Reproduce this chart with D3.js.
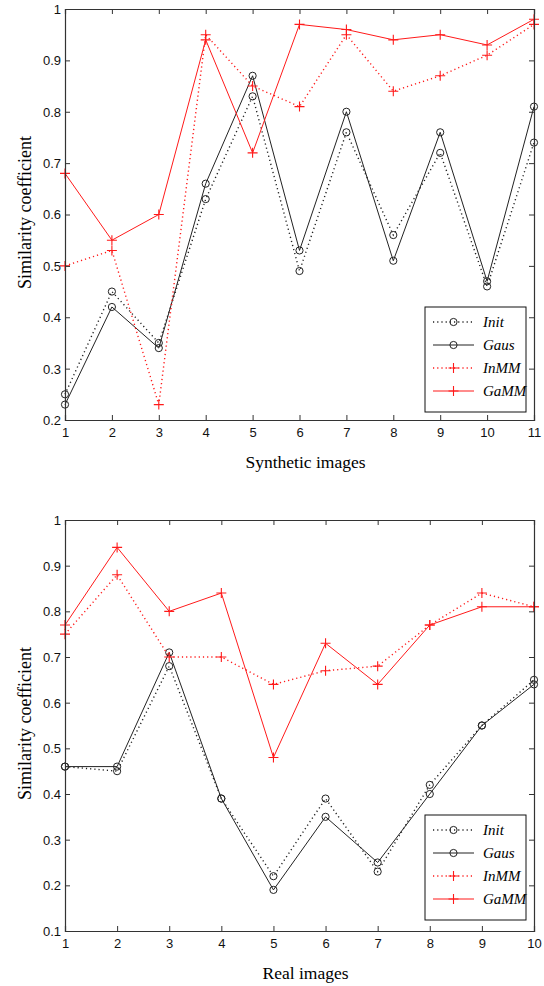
<!DOCTYPE html>
<html>
<head>
<meta charset="utf-8">
<script src="https://cdn.jsdelivr.net/npm/d3@7"></script>
<style>
  body { margin: 0; background: #fff; }
  svg { display: block; }
</style>
</head>
<body>
<script>
// synthetic images chart
const synthX = [1, 2, 3, 4, 5, 6, 7, 8, 9, 10, 11];
const synthInit = [0.25, 0.45, 0.35, 0.63, 0.83, 0.49, 0.76, 0.56, 0.72, 0.46, 0.74];
const synthGaus = [0.23, 0.42, 0.34, 0.66, 0.87, 0.53, 0.80, 0.51, 0.76, 0.47, 0.81];
const synthInMM = [0.50, 0.53, 0.23, 0.95, 0.85, 0.81, 0.95, 0.84, 0.87, 0.91, 0.97];
const synthGaMM = [0.68, 0.55, 0.60, 0.94, 0.72, 0.97, 0.96, 0.94, 0.95, 0.93, 0.98];
const synthYTicks = [0.2, 0.3, 0.4, 0.5, 0.6, 0.7, 0.8, 0.9, 1];

// real images chart
const realX = [1, 2, 3, 4, 5, 6, 7, 8, 9, 10];
const realInit = [0.46, 0.45, 0.68, 0.39, 0.22, 0.39, 0.23, 0.42, 0.55, 0.65];
const realGaus = [0.46, 0.46, 0.71, 0.39, 0.19, 0.35, 0.25, 0.40, 0.55, 0.64];
const realInMM = [0.75, 0.88, 0.70, 0.70, 0.64, 0.67, 0.68, 0.77, 0.84, 0.81];
const realGaMM = [0.77, 0.94, 0.80, 0.84, 0.48, 0.73, 0.64, 0.77, 0.81, 0.81];
const realYTicks = [0.1, 0.2, 0.3, 0.4, 0.5, 0.6, 0.7, 0.8, 0.9, 1];

const seriesNames = ['Init', 'Gaus', 'InMM', 'GaMM'];
const styles = {
  Init: { color: '#222', dash: '1.2,3', marker: 'circle' },
  Gaus: { color: '#222', dash: null, marker: 'circle' },
  InMM: { color: '#ff1a1a', dash: '1.2,3', marker: 'plus' },
  GaMM: { color: '#ff1a1a', dash: null, marker: 'plus' }
};

const svg = d3.select('body').append('svg')
  .attr('width', 544)
  .attr('height', 986);

function drawMarker(g, type, x, y, color) {
  if (type === 'circle') {
    g.append('circle')
      .attr('cx', x).attr('cy', y).attr('r', 3.6)
      .attr('fill', 'none').attr('stroke', color).attr('stroke-width', 1);
  } else {
    g.append('path')
      .attr('d', `M${x - 5},${y}H${x + 5}M${x},${y - 5}V${y + 5}`)
      .attr('stroke', color).attr('stroke-width', 1.1);
  }
}

function drawChart({ top, bottom, xs, yDomain, yTicks, data, xLabel, legendTop }) {
  const left = 65, right = 534;
  const x = d3.scaleLinear().domain([xs[0], xs[xs.length - 1]]).range([left, right]);
  const y = d3.scaleLinear().domain(yDomain).range([bottom, top]);

  const g = svg.append('g');

  // series
  seriesNames.forEach(function(name) {
    const st = styles[name];
    const vals = data[name];
    const line = d3.line().x((d, i) => x(xs[i])).y(d => y(d));
    g.append('path')
      .attr('d', line(vals))
      .attr('fill', 'none')
      .attr('stroke', st.color)
      .attr('stroke-width', st.dash ? 1.4 : 1)
      .attr('stroke-dasharray', st.dash);
    vals.forEach(function(v, i) {
      drawMarker(g, st.marker, x(xs[i]), y(v), st.color);
    });
  });

  // axes box
  const axisColor = '#333';
  const bot = g.append('g').attr('transform', `translate(0,${bottom})`)
    .call(d3.axisBottom(x).tickValues(xs).tickSize(-5).tickPadding(8).tickFormat(d3.format('d')));
  const topAx = g.append('g').attr('transform', `translate(0,${top})`)
    .call(d3.axisTop(x).tickValues(xs).tickSize(-5).tickFormat(''));
  const lft = g.append('g').attr('transform', `translate(${left},0)`)
    .call(d3.axisLeft(y).tickValues(yTicks).tickSize(-5).tickPadding(4).tickFormat(d => d === 1 ? '1' : d3.format('.1f')(d)));
  const rgt = g.append('g').attr('transform', `translate(${right},0)`)
    .call(d3.axisRight(y).tickValues(yTicks).tickSize(-5).tickFormat(''));

  [bot, topAx, lft, rgt].forEach(function(a) {
    a.select('.domain').attr('stroke', axisColor).attr('stroke-width', 1.2);
    a.selectAll('.tick line').attr('stroke', axisColor);
    a.selectAll('.tick text')
      .attr('fill', '#111')
      .style('font-family', '"Liberation Sans", Arial, sans-serif')
      .style('font-size', '13px');
  });
  lft.selectAll('.tick text').attr('dy', '0.34em');

  // axis titles
  g.append('text')
    .attr('transform', `translate(31,${(top + bottom) / 2 - 2}) rotate(-90)`)
    .attr('text-anchor', 'middle')
    .style('font-family', '"Liberation Serif", "Times New Roman", serif')
    .style('font-size', '18px')
    .text('Similarity coefficient');

  g.append('text')
    .attr('x', (left + right) / 2 + 6)
    .attr('y', bottom + 48)
    .attr('text-anchor', 'middle')
    .style('font-family', '"Liberation Serif", "Times New Roman", serif')
    .style('font-size', '17.5px')
    .text(xLabel);

  // legend
  const lg = g.append('g').attr('transform', `translate(425,${legendTop})`);
  lg.append('rect')
    .attr('width', 101).attr('height', 105)
    .attr('fill', '#fff').attr('stroke', '#111').attr('stroke-width', 1);
  seriesNames.forEach(function(name, i) {
    const st = styles[name];
    const ry = 15 + i * 23;
    lg.append('line')
      .attr('x1', 8).attr('x2', 49).attr('y1', ry).attr('y2', ry)
      .attr('stroke', st.color)
      .attr('stroke-width', st.dash ? 1.4 : 1.2)
      .attr('stroke-dasharray', st.dash);
    drawMarker(lg, st.marker, 28.5, ry, st.color);
    lg.append('text')
      .attr('x', 58).attr('y', ry + 5)
      .style('font-family', '"Liberation Serif", "Times New Roman", serif')
      .style('font-style', 'italic')
      .style('font-size', '15px')
      .text(name);
  });
}

drawChart({
  top: 9, bottom: 420, xs: synthX, yDomain: [0.2, 1], yTicks: synthYTicks,
  data: { Init: synthInit, Gaus: synthGaus, InMM: synthInMM, GaMM: synthGaMM },
  xLabel: 'Synthetic images', legendTop: 307
});

drawChart({
  top: 520, bottom: 931, xs: realX, yDomain: [0.1, 1], yTicks: realYTicks,
  data: { Init: realInit, Gaus: realGaus, InMM: realInMM, GaMM: realGaMM },
  xLabel: 'Real images', legendTop: 815
});
</script>
</body>
</html>
